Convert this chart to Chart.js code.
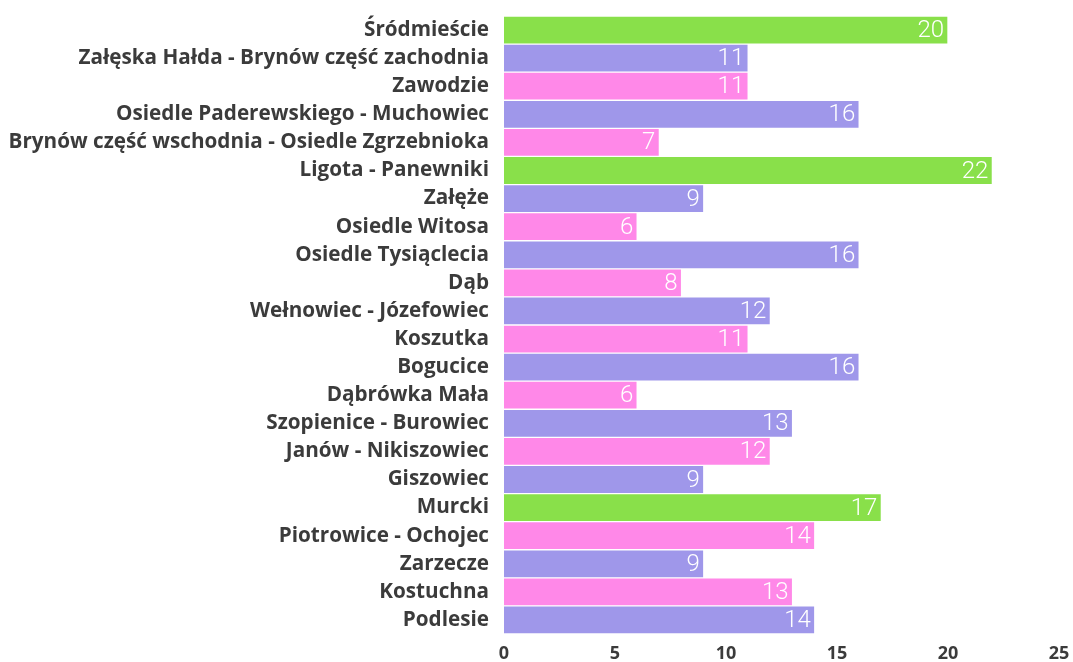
<!DOCTYPE html>
<html>
<head>
<meta charset="utf-8">
<script src="https://cdn.jsdelivr.net/npm/chart.js@4"></script>
<style>
  html, body { margin: 0; padding: 0; background: #fff; }
  #wrap { width: 1073px; height: 662px; }
</style>
</head>
<body>
<div id="wrap"><canvas id="districtChart"></canvas></div>
<script>
const districts = [
  "Śródmieście",
  "Załęska Hałda - Brynów część zachodnia",
  "Zawodzie",
  "Osiedle Paderewskiego - Muchowiec",
  "Brynów część wschodnia - Osiedle Zgrzebnioka",
  "Ligota - Panewniki",
  "Załęże",
  "Osiedle Witosa",
  "Osiedle Tysiąclecia",
  "Dąb",
  "Wełnowiec - Józefowiec",
  "Koszutka",
  "Bogucice",
  "Dąbrówka Mała",
  "Szopienice - Burowiec",
  "Janów - Nikiszowiec",
  "Giszowiec",
  "Murcki",
  "Piotrowice - Ochojec",
  "Zarzecze",
  "Kostuchna",
  "Podlesie",
];
const counts = [20, 11, 11, 16, 7, 22, 9, 6, 16, 8, 12, 11, 16, 6, 13, 12, 9, 17, 14, 9, 13, 14];
// g = green, v = violet, p = pink
const colorKeys = ["g", "v", "p", "v", "p", "g", "v", "p", "v", "p", "v", "p", "v", "p", "v", "p", "v", "g", "p", "v", "p", "v"];
const xTicks = [0, 5, 10, 15, 20, 25];

const palette = { g: "#89e04a", v: "#9f97ea", p: "#ff88e8" };

const valueLabels = {
  id: "valueLabels",
  afterDatasetsDraw(chart) {
    const ctx = chart.ctx;
    const meta = chart.getDatasetMeta(0);
    ctx.save();
    ctx.fillStyle = "#fff";
    ctx.font = "300 24px Roboto";
    ctx.textAlign = "right";
    ctx.textBaseline = "middle";
    meta.data.forEach(function (bar, i) {
      ctx.fillText(String(counts[i]), bar.x - 4, bar.y + 1);
    });
    ctx.restore();
  },
};

new Chart(document.getElementById("districtChart"), {
  type: "bar",
  data: {
    labels: districts,
    datasets: [
      {
        data: counts,
        backgroundColor: colorKeys.map((k) => palette[k]),
        borderColor: "rgba(255, 255, 255, 0.45)",
        borderWidth: 1,
        barPercentage: 1,
        categoryPercentage: 1,
      },
    ],
  },
  options: {
    indexAxis: "y",
    responsive: true,
    maintainAspectRatio: false,
    animation: false,
    layout: {
      padding: { top: 16, right: 14, bottom: 0, left: 0 },
    },
    plugins: {
      legend: { display: false },
      tooltip: { enabled: false },
    },
    scales: {
      x: {
        min: 0,
        max: 25,
        afterBuildTicks: (axis) => {
          axis.ticks = xTicks.map((v) => ({ value: v }));
        },
        afterFit: (axis) => {
          axis.height = 28;
          axis.paddingRight = 0;
        },
        grid: { display: false, drawTicks: false, tickLength: 0 },
        border: { display: false },
        ticks: {
          padding: 9,
          color: "#3b3b3b",
          font: { family: "'Open Sans'", size: 18, weight: "bold" },
        },
      },
      y: {
        afterFit: (axis) => {
          axis.width = 504;
          axis.paddingTop = 0;
          axis.paddingBottom = 0;
        },
        grid: { display: false, drawTicks: false, tickLength: 0 },
        border: { display: false },
        ticks: {
          padding: 15,
          autoSkip: false,
          color: "#3b3b3b",
          font: { family: "'Open Sans'", size: 20.7, weight: "bold" },
        },
      },
    },
  },
  plugins: [valueLabels],
});
</script>
</body>
</html>
